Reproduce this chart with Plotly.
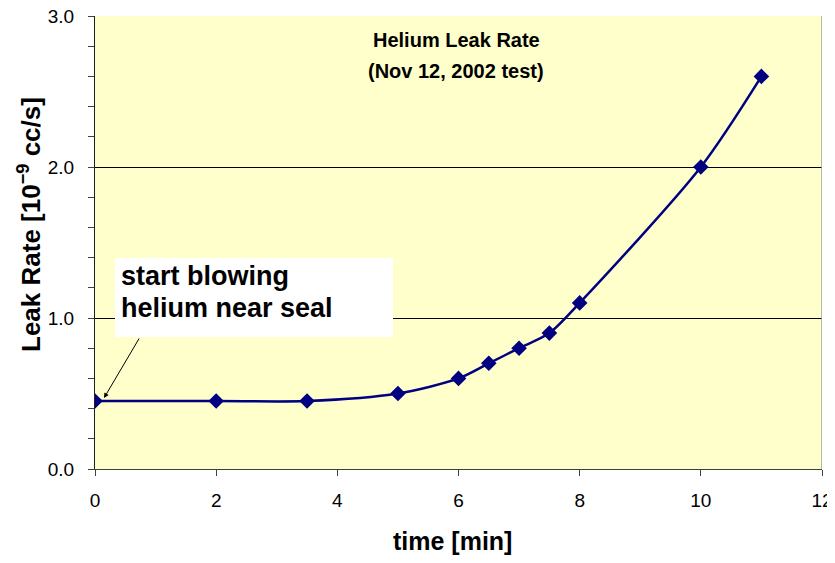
import plotly.graph_objects as go

time_min = [0, 2, 3.5, 5, 6, 6.5, 7, 7.5, 8, 10, 11]
leak_rate = [0.45, 0.45, 0.45, 0.5, 0.6, 0.7, 0.8, 0.9, 1.1, 2.0, 2.6]
x_ticks = [0, 2, 4, 6, 8, 10, 12]
y_ticks = [0.0, 1.0, 2.0, 3.0]
y_tick_labels = ["0.0", "1.0", "2.0", "3.0"]

FONT = "Liberation Sans"

# page body has an 8px default margin: compensate so the plot lands where the reference has it
PW, PH = 727.0, 453.0  # plot-area size in px
def px(xpix):
    return (xpix - 95) / PW
def py(ypix):
    return (469 - ypix) / PH

fig = go.Figure()
fig.add_trace(go.Scatter(
    x=time_min, y=leak_rate, mode="lines+markers",
    line=dict(color="#000080", width=2.5, shape="spline", smoothing=0.8),
    marker=dict(symbol="diamond", size=12, color="#000080"),
    showlegend=False,
))

fig.update_layout(
    width=835, height=547,
    margin=dict(l=87, r=21, t=8, b=86, autoexpand=False),
    paper_bgcolor="white",
    plot_bgcolor="#FFFFCC",
    font=dict(family=FONT, color="black", size=19),
    xaxis=dict(
        range=[0, 12], tickvals=x_ticks, ticks="outside", ticklen=6,
        tickcolor="#404040", showline=True, linecolor="#404040", linewidth=1,
        showgrid=False, zeroline=False, mirror=False,
        tickfont=dict(size=19, family=FONT), ticklabelstandoff=8,
        ticklabeloverflow="allow",
    ),
    yaxis=dict(
        range=[0, 3.0], tickvals=y_ticks, ticktext=y_tick_labels,
        ticks="outside", ticklen=6, tickcolor="#404040",
        showline=True, linecolor="#202020", linewidth=1,
        showgrid=True, gridcolor="black", gridwidth=1, zeroline=False,
        minor=dict(dtick=0.2, ticks="outside", ticklen=6, tickcolor="#404040", showgrid=False),
        tickfont=dict(size=19, family=FONT), ticklabelstandoff=10,
        ticklabeloverflow="allow",
    ),
)

# axis titles as positioned text
fig.add_annotation(xref="paper", yref="paper", x=px(29), y=py(225), xanchor="center", yanchor="middle",
                   text="<b>Leak Rate [10<sup>\u22129</sup> cc/s]</b>", textangle=-90, showarrow=False,
                   font=dict(size=26, family=FONT))
fig.add_annotation(xref="paper", yref="paper", x=px(452), y=py(541), xanchor="center", yanchor="middle",
                   text="<b>time [min]</b>", showarrow=False, font=dict(size=25, family=FONT))

# right border of plot area
fig.add_shape(type="line", xref="x", yref="paper", x0=12, x1=12, y0=0, y1=1,
              line=dict(color="#A0A0A0", width=1.5))

# chart title (two lines, Excel-like line spacing)
fig.add_annotation(xref="paper", yref="paper", x=px(456), y=py(40), xanchor="center", yanchor="middle",
                   text="<b>Helium Leak Rate</b>", showarrow=False, font=dict(size=20, family=FONT))
fig.add_annotation(xref="paper", yref="paper", x=px(456), y=py(71), xanchor="center", yanchor="middle",
                   text="<b>(Nov 12, 2002 test)</b>", showarrow=False, font=dict(size=20, family=FONT))

# white callout box
fig.add_shape(type="rect", xref="paper", yref="paper", x0=px(115), x1=px(393), y0=py(337), y1=py(258),
              fillcolor="white", line=dict(width=0), layer="above")
fig.add_annotation(xref="paper", yref="paper", x=px(119), y=py(276), xanchor="left", yanchor="middle",
                   text="<b>start blowing</b>", showarrow=False, font=dict(size=27, family=FONT))
fig.add_annotation(xref="paper", yref="paper", x=px(119), y=py(308), xanchor="left", yanchor="middle",
                   text="<b>helium near seal</b>", showarrow=False, font=dict(size=27, family=FONT))

# arrow to first point
fig.add_annotation(
    x=(104 - 95) / PW * 12, y=(469 - 398) / 151.0, xref="x", yref="y",
    ax=36, ay=-61,
    text="", showarrow=True, arrowhead=2, arrowsize=1, arrowwidth=1, arrowcolor="black",
)

fig.write_html("out.html")
